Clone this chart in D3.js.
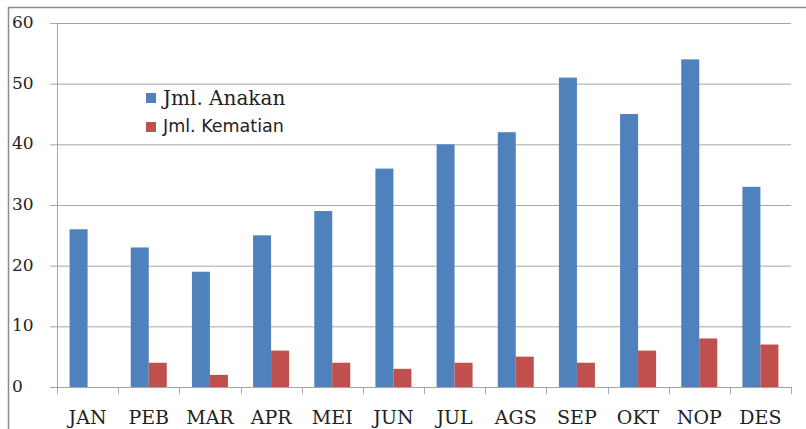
<!DOCTYPE html>
<html><head><meta charset="utf-8">
<script src="https://cdn.jsdelivr.net/npm/d3@7"></script>
<style>body{margin:0;background:#fff}svg{display:block}</style>
</head><body>
<script>
const months = ["JAN","PEB","MAR","APR","MEI","JUN","JUL","AGS","SEP","OKT","NOP","DES"];
const anakan = [26,23,19,25,29,36,40,42,51,45,54,33];
const kematian = [0,4,2,6,4,3,4,5,4,6,8,7];
const yTicks = [0,10,20,30,40,50,60];
const seriesNames = ["Jml. Anakan","Jml. Kematian"];
const colors = ["#4F81BD","#C0504D"];

(function(){
const W=806,H=429;
const serif="'DejaVu Serif', serif";
const svg=d3.select("body").append("svg").attr("width",W).attr("height",H);
svg.append("rect").attr("x",8.5).attr("y",7.5).attr("width",W).attr("height",H).attr("fill","none").attr("stroke","#8c8c8c").attr("stroke-width",1.5);

const pL=57,pR=791,pT=23,pB=387;
const x=d3.scaleBand().domain(months).range([pL,pR]);
const y=d3.scaleLinear().domain([0,60]).range([pB,pT]);

svg.append("g").selectAll("line").data(yTicks).join("line")
  .attr("x1",50).attr("x2",pR).attr("y1",d=>y(d)+0.5).attr("y2",d=>y(d)+0.5)
  .attr("stroke","#a6a6a6").attr("stroke-width",1);
svg.append("line").attr("x1",pL+0.5).attr("x2",pL+0.5).attr("y1",y(60)).attr("y2",pB+7).attr("stroke","#a6a6a6");
svg.append("g").selectAll("text").data(yTicks).join("text")
  .attr("x",12).attr("y",d=>y(d)+5).text(d=>d)
  .attr("font-family",serif).attr("font-size",17).attr("fill","#222");

const bw=18;
const off=(x.bandwidth()-2*bw)/2;
const g=svg.append("g");
[anakan,kematian].forEach((vals,si)=>{
  g.selectAll(".s"+si).data(vals).join("rect").attr("class","s"+si)
    .attr("x",(d,i)=>x(months[i])+off+si*bw)
    .attr("y",d=>y(d)).attr("width",bw).attr("height",d=>y(0)-y(d))
    .attr("fill",colors[si]);
});

svg.append("line").attr("x1",pL).attr("x2",pR).attr("y1",pB+0.5).attr("y2",pB+0.5).attr("stroke","#a6a6a6");
const bounds=months.map(m=>x(m)).concat([pR]);
svg.append("g").selectAll("line").data(bounds).join("line")
  .attr("x1",d=>Math.round(d)+0.5).attr("x2",d=>Math.round(d)+0.5).attr("y1",pB).attr("y2",pB+7).attr("stroke","#a6a6a6");
svg.append("g").selectAll("text").data(months).join("text")
  .attr("x",d=>x(d)+x.bandwidth()/2).attr("y",424).attr("text-anchor","middle").text(d=>d)
  .attr("font-family",serif).attr("font-size",19).attr("fill","#222");

const lg=svg.append("g");
lg.append("rect").attr("x",146).attr("y",93).attr("width",10).attr("height",10).attr("fill",colors[0]);
lg.append("text").attr("x",163).attr("y",105).text(seriesNames[0]).attr("font-family",serif).attr("font-size",20).attr("fill","#222");
lg.append("rect").attr("x",146).attr("y",122).attr("width",10).attr("height",10).attr("fill",colors[1]);
lg.append("text").attr("x",163).attr("y",132).text(seriesNames[1]).attr("font-family","'DejaVu Sans', sans-serif").attr("font-size",17.5).attr("fill","#222");
})();
</script>
</body></html>
